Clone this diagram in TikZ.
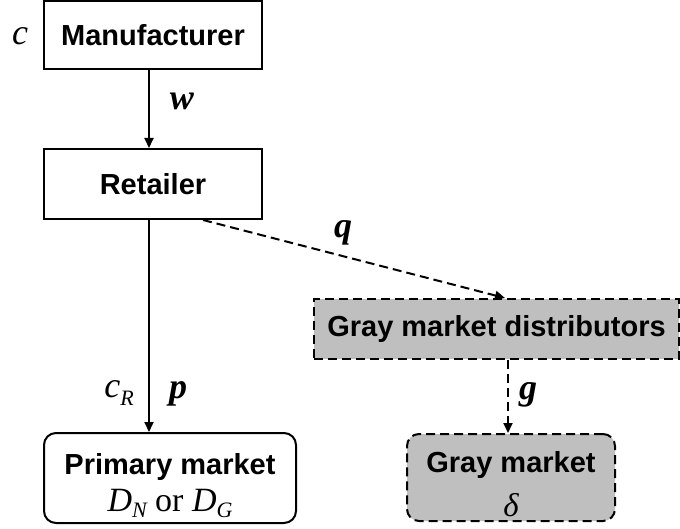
\documentclass[tikz,border=0pt]{standalone}
\usepackage{fontspec}
\setmainfont{Liberation Serif}
\newfontfamily\arialf{Liberation Sans}
\usetikzlibrary{arrows.meta}
\definecolor{gmgray}{RGB}{191,191,191}
\newcommand{\subx}[1]{\raisebox{-0.2em}{\fontsize{22}{22}\selectfont\itshape #1}}
\begin{document}
\begin{tikzpicture}[x=1pt,y=-1pt,
  box/.style={draw=black, line width=2pt, inner sep=0pt, align=center, font=\arialf\bfseries\fontsize{29}{44}\selectfont},
  dbox/.style={box, dash pattern=on 9pt off 5pt, fill=gmgray},
  lab/.style={inner sep=0pt, font=\fontsize{36}{36}\selectfont},
  conn/.style={line width=2pt, -{Triangle[length=10pt,width=9pt]}},
  dconn/.style={conn, dash pattern=on 9pt off 5pt}]
\useasboundingbox (0,0) rectangle (680,529);
\node[box, minimum width=218pt, minimum height=68pt] (man) at (153,35) {Manufacturer};
\node[box, minimum width=218pt, minimum height=70pt] (ret) at (153,184) {Retailer};
\node[box, rounded corners=12pt, minimum width=252pt, minimum height=90pt] (prim) at (170,478)
  {\rule{0pt}{36pt}Primary market\\[-7pt]{\mdseries\rmfamily\fontsize{34}{34}\selectfont\itshape D\subx{N}\upshape{} or \itshape D\subx{G}}};
\node[dbox, rounded corners=12pt, minimum width=208pt, minimum height=87pt] (gm) at (511,477.5)
  {\rule{0pt}{34pt}Gray market\\[0pt]{\mdseries\rmfamily\fontsize{33}{33}\selectfont\itshape δ}};
\node[dbox, minimum width=365pt, minimum height=60pt] (gmd) at (496.5,329) {Gray market distributors};
\draw[conn] ([xshift=-4pt]man.south) -- ([xshift=-4pt]ret.north);
\draw[conn] ([xshift=-4pt]ret.south) -- ([xshift=-21pt]prim.north);
\draw[dconn] ([xshift=50pt]ret.south) -- ([xshift=8.5pt]gmd.north);
\draw[dconn] ([xshift=11.5pt]gmd.south) -- ([xshift=-3pt]gm.north);
\node[lab] (lc) at (20,36) {\itshape c};
\node[lab] (lw) at (182,101) {\bfseries\itshape w};
\node[lab] (lq) at (343,233) {\bfseries\itshape q};
\node[lab] (lcr) at (119,393) {\itshape c\subx{R}};
\node[lab] (lp) at (178,394) {\bfseries\itshape p};
\node[lab] (lg) at (528,395) {\bfseries\itshape g};
\end{tikzpicture}
\end{document}
